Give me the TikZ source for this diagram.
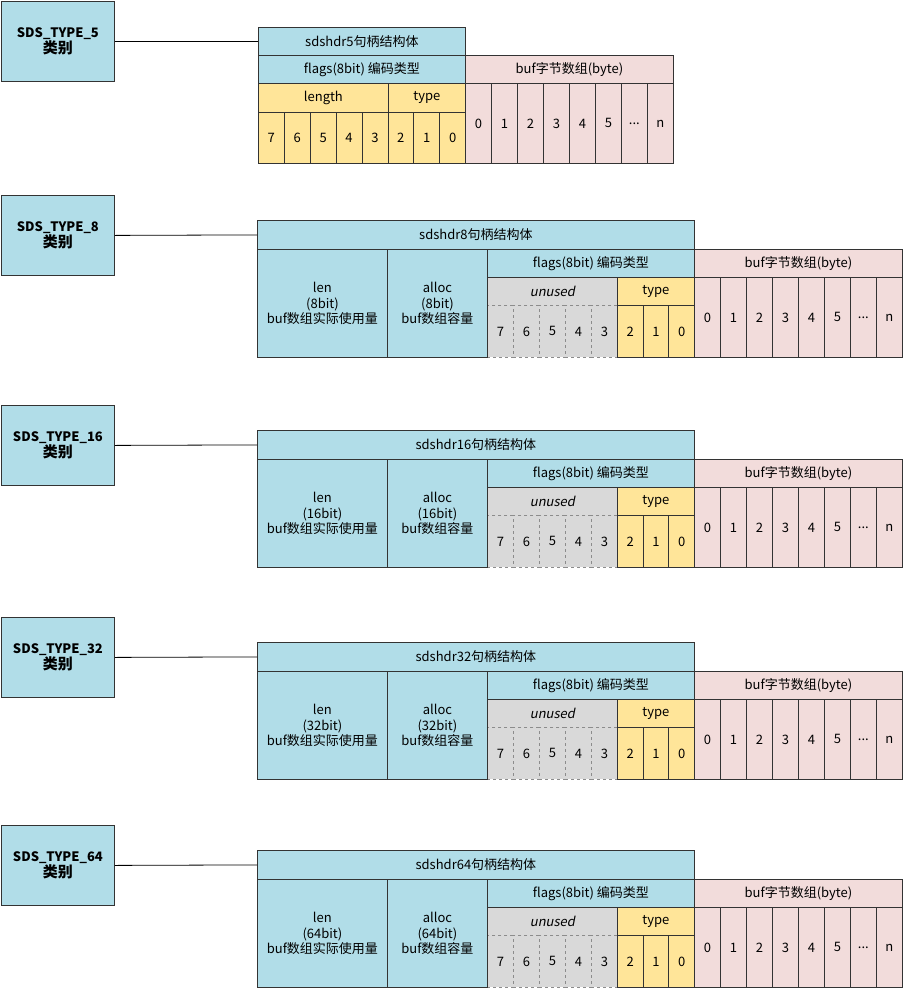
\documentclass[tikz,border=0pt]{standalone}
\usepackage{fontspec}
\setmainfont{Noto Sans CJK SC}[ItalicFont=Noto Sans CJK SC, ItalicFeatures={FakeSlant=0.2}]
\usepackage{xcolor}
\usetikzlibrary{positioning}

\definecolor{hdrblue}{RGB}{177,221,232}
\definecolor{bityellow}{RGB}{255,229,153}
\definecolor{bufpink}{RGB}{242,220,219}
\definecolor{unusedgray}{RGB}{217,217,217}
\newcommand\bufdots{...}

\begin{document}
\begin{tikzpicture}[
    x=1pt, y=-1pt,
    font=\fontsize{13}{15.5}\selectfont,
    cell/.style={
        rectangle,
        draw=black!80,
        line width=0.8pt,
        anchor=north west,
        inner sep=0pt,
        align=center
    },
    typebox/.style={
        cell,
        fill=hdrblue,
        minimum width=113,
        minimum height=80,
        font=\fontsize{13}{16}\selectfont\bfseries
    },
    hdr/.style={cell, fill=hdrblue, minimum height=29},
    bitcell/.style={cell, fill=bityellow, minimum width=25.9},
    bytecell/.style={cell, fill=bufpink, minimum width=26, minimum height=80},
    unusedcell/.style={cell, fill=unusedgray, draw=gray!90, dashed},
    line/.style={draw, black, line width=0.8pt}
]
\useasboundingbox (0,0) rectangle (903,988);

% SDS_TYPE_5
\node [typebox] (type5) at (1,1) {SDS\_TYPE\_5\\{\fontsize{15}{16}\selectfont 类别}};
\node [hdr, minimum width=207, minimum height=28] (hdr5) at (258,27) {sdshdr5句柄结构体};
\node [hdr, minimum width=207, minimum height=28] (flags5) at (258,55) {flags(8bit) 编码类型};
\node [cell, fill=bufpink, minimum width=208, minimum height=28] (buf5) at (465,55) {buf字节数组(byte)};
\node [cell, fill=bityellow, minimum width=130, minimum height=29] (length5) at (258,83) {length};
\node [cell, fill=bityellow, minimum width=77, minimum height=29] (kind5) at (388,83) {type};
\foreach \b [count=\i from 0] in {7,6,5,4,3,2,1,0}
    \node [bitcell, minimum height=51] (bit5-\i) at (258+\i*25.9,112) {\b};
\foreach \c [count=\i from 0] in {0,1,2,3,4,5,\bufdots,n}
    \node [bytecell] (byte5-\i) at (465+\i*26,83) {\c};
\path [line] (type5.east) -- (hdr5.west);

% SDS_TYPE_8 .. SDS_TYPE_64
\foreach \bits/\top/\h in {8/195/220, 16/405/430, 32/617/642, 64/825/850} {
    \node [typebox] (type\bits) at (1,\top) {SDS\_TYPE\_\bits\\{\fontsize{15}{16}\selectfont 类别}};
    % unused bits first, solid borders go on top
    \node [unusedcell, minimum width=130, minimum height=28] (unused\bits) at (487,\h+57) {\itshape unused};
    \foreach \b [count=\i from 0] in {7,6,5,4,3}
        \node [unusedcell, minimum width=26, minimum height=52] (ubit\bits-\i) at (487+\i*26,\h+85) {\b};
    \node [hdr, minimum width=437] (hdr\bits) at (257,\h) {sdshdr{\bits}句柄结构体};
    \node [cell, fill=hdrblue, minimum width=130, minimum height=108] (len\bits) at (257,\h+29)
        {len\\({\bits}bit)\\buf数组实际使用量};
    \node [cell, fill=hdrblue, minimum width=100, minimum height=108] (alloc\bits) at (387,\h+29)
        {alloc\\({\bits}bit)\\buf数组容量};
    \node [cell, fill=hdrblue, minimum width=207, minimum height=28] (flags\bits) at (487,\h+29) {flags(8bit) 编码类型};
    \node [cell, fill=bityellow, minimum width=77, minimum height=28] (kind\bits) at (617,\h+57) {type};
    \foreach \b [count=\i from 0] in {2,1,0}
        \node [bitcell, minimum width=25.7, minimum height=52] (bit\bits-\i) at (617+\i*25.7,\h+85) {\b};
    \node [cell, fill=bufpink, minimum width=208, minimum height=28] (buf\bits) at (694,\h+29) {buf字节数组(byte)};
    \foreach \c [count=\i from 0] in {0,1,2,3,4,5,\bufdots,n}
        \node [bytecell] (byte\bits-\i) at (694+\i*26,\h+57) {\c};
    \path [line] (type\bits.east) -- (hdr\bits.west);
}

\end{tikzpicture}
\end{document}
